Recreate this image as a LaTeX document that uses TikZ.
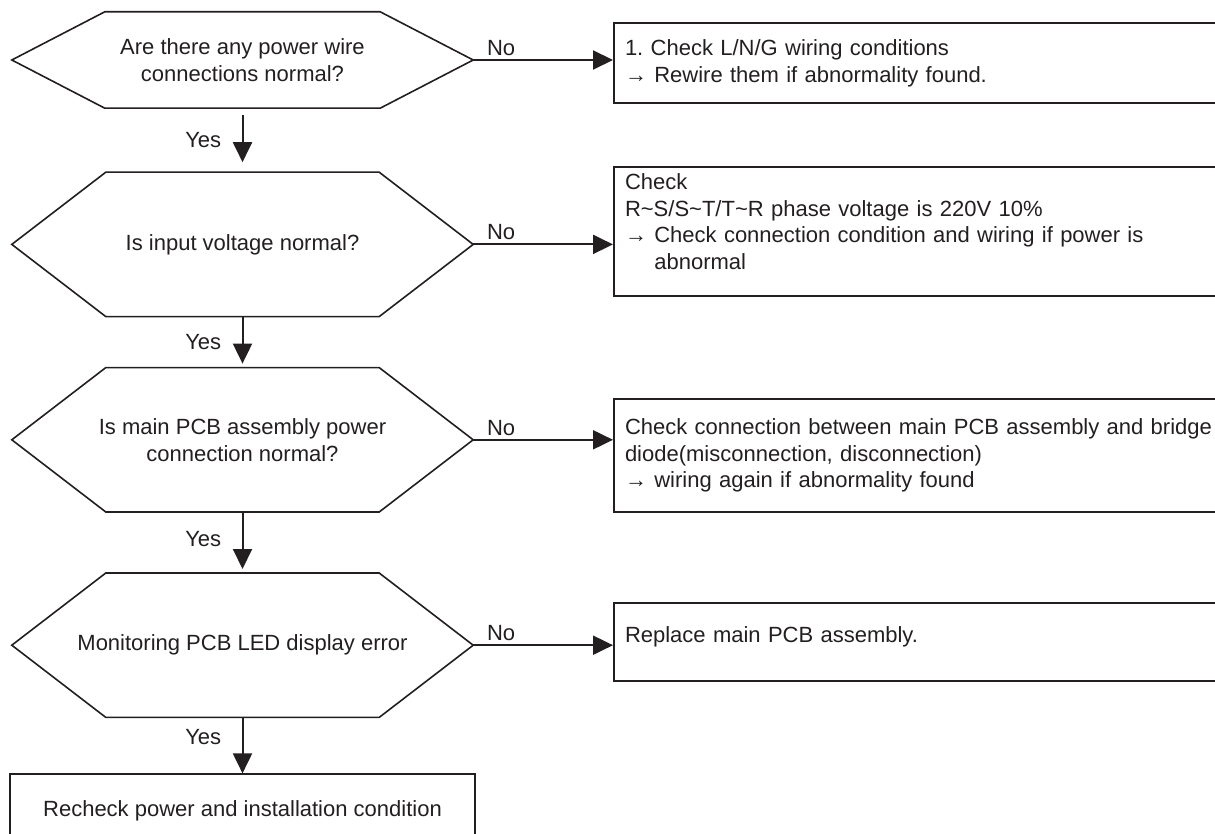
\documentclass[tikz,border=0pt]{standalone}
\usepackage{fontspec}
\setmainfont{Liberation Sans}
\usetikzlibrary{arrows.meta, positioning}
\definecolor{ink}{HTML}{231F20}
\frenchspacing

\begin{document}
\begin{tikzpicture}[
  x=1pt, y=-1pt,
  font=\fontsize{22}{26.7}\selectfont,
  every node/.style={text=ink},
  ask/.style={minimum width=461pt, minimum height=144pt, inner sep=0pt, align=center},
  fix/.style={draw=ink, line width=2pt, anchor=north west, align=left,
              text width=620pt, inner xsep=11pt, inner ysep=0pt},
  edge/.style={draw=ink, line width=1.6pt},
  arr/.style={-{Triangle[length=20pt, width=19pt]}, line width=2pt, draw=ink}
]
  \useasboundingbox (0,0) rectangle (1215,834);

  % questions
  \node[ask, minimum height=96pt] (q1) at (242.5,60) {Are there any power wire\\connections normal?};
  \node[ask, below=64pt of q1] (q2) {Is input voltage normal?};
  \node[ask, below=51pt of q2] (q3) {Is main PCB assembly power\\connection normal?};
  \node[ask, below=61pt of q3] (q4) {Monitoring PCB LED display error};
  \node[draw=ink, line width=2pt, minimum width=465pt, minimum height=72pt, below=56pt of q4] (done)
    {Recheck power and installation condition};

  \foreach \n/\d in {q1/93, q2/94, q3/94, q4/94}
    \draw[edge] (\n.west) -- ([xshift=\d pt]\n.north west) -- ([xshift=-\d pt]\n.north east)
      -- (\n.east) -- ([xshift=-\d pt]\n.south east) -- ([xshift=\d pt]\n.south west) -- cycle;

  % fixes
  \node[fix, minimum height=80pt] (fix1) at (613,22)
    {1. Check L/N/G wiring conditions\\→ Rewire them if abnormality found.};
  \node[fix, minimum height=129pt] (fix2) at (613,166)
    {Check\\R\textasciitilde S/S\textasciitilde T/T\textasciitilde R phase voltage is 220V 10\%\\→ Check connection condition and wiring if power is\\\phantom{→ }abnormal\par\vspace*{20pt}};
  \node[fix, minimum height=113pt] (fix3) at (613,398)
    {Check connection between main PCB assembly and bridge\\diode(misconnection, disconnection)\\→ wiring again if abnormality found};
  \node[fix, minimum height=78pt] (fix4) at (613,602)
    {Replace main PCB assembly.\par\vspace*{10pt}};

  % yes
  \draw[arr, shorten <=7pt, shorten >=10pt] (q1) -- (q2) node[midway, left=17pt] {Yes};
  \draw[arr, shorten >=4pt] (q2) -- (q3) node[midway, left=17pt] {Yes};
  \draw[arr, shorten >=4pt] (q3) -- (q4) node[pos=0.45, left=17pt] {Yes};
  \draw[arr] (q4.south) -- (q4.south |- done.north) node[pos=0.35, left=17pt] {Yes};

  % no
  \draw[arr] (q1.east) -- (q1.east -| fix1.west) node[pos=0.2, above] {No};
  \draw[arr] (q2.east) -- (q2.east -| fix2.west) node[pos=0.2, above] {No};
  \draw[arr] (q3.east) -- (q3.east -| fix3.west) node[pos=0.2, above] {No};
  \draw[arr] (q4.east) -- (q4.east -| fix4.west) node[pos=0.2, above] {No};
\end{tikzpicture}
\end{document}
